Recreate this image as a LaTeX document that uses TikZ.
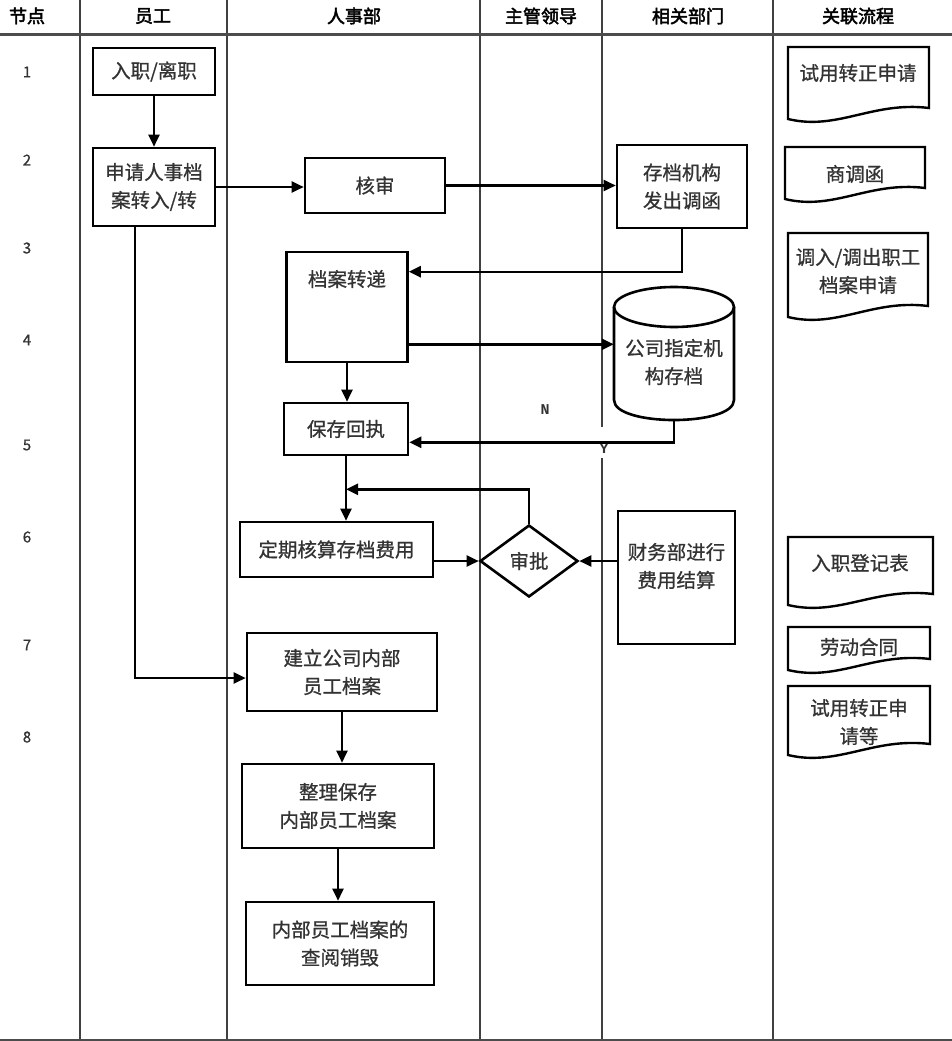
\documentclass[tikz,border=0pt]{standalone}
\usepackage{fontspec}
\newfontfamily\cjk[FakeBold=0.8]{Noto Sans CJK SC}
\newfontfamily\cjkb[FakeBold=2.5]{Noto Sans CJK SC}
\newfontfamily\monob{Liberation Mono}
\usetikzlibrary{arrows.meta,shapes.geometric,calc}
\newcommand\docbox[4]{\draw[docl] (#1,#2) -- (#3,#2) -- (#3,#4-11) .. controls ({#1+0.6*(#3-#1)},#4-18) and ({#1+0.35*(#3-#1)},#4+12) .. (#1,#4) -- cycle;}
\begin{document}
\begin{tikzpicture}[x=1pt,y=-1pt,
  box/.style={draw,line width=2.6pt,align=center,inner sep=0pt,font=\cjk\fontsize{19.5}{28}\selectfont,text=black!80},
  txt/.style={align=center,inner sep=0pt,font=\cjk\fontsize{19.5}{28}\selectfont,text=black!80},
  head/.style={inner sep=0pt,font=\cjkb\fontsize{18}{20}\selectfont},
  num/.style={inner sep=0pt,font=\cjk\fontsize{15}{16}\selectfont,text=black!80},
  arr/.style={line width=2.4pt,-{Triangle[length=12pt,width=11pt]}},
  col/.style={line width=1.6pt,black!75},
  docl/.style={line width=2.4pt},
  yn/.style={inner sep=0pt,font=\monob\bfseries\fontsize{15}{17}\selectfont,text=black!80}]
\useasboundingbox (0,0) rectangle (952,1041);
\fill[white] (0,0) rectangle (952,1041);
% grid
\draw[col] (80,0) -- (80,1041);
\draw[col] (227,0) -- (227,1041);
\draw[col] (480,0) -- (480,1041);
\draw[col] (602,0) -- (602,427);
\draw[col] (602,458) -- (602,1041);
\draw[col] (773,0) -- (773,1041);
\draw[line width=3pt,black!70] (0,35) -- (952,35);
\draw[line width=2pt,black!70] (0,1040) -- (952,1040);
% header
\node[head] (h1) at (27,16) {节点};
\node[head] (h2) at (153,16) {员工};
\node[head] (h3) at (354,16) {人事部};
\node[head] (h4) at (541,16) {主管领导};
\node[head] (h5) at (688,16) {相关部门};
\node[head] (h6) at (858,16) {关联流程};
% node numbers
\node[num] (n1) at (27,72) {1};
\node[num] (n2) at (27,160) {2};
\node[num] (n3) at (27,248) {3};
\node[num] (n4) at (27,340) {4};
\node[num] (n5) at (27,445) {5};
\node[num] (n6) at (27,537) {6};
\node[num] (n7) at (27,645) {7};
\node[num] (n8) at (27,737) {8};
% boxes
\node[box,minimum width=122pt,minimum height=47pt] (in) at (154,71.5) {入职/离职};
\node[box,minimum width=122pt,minimum height=78pt] (apply) at (154,187) {申请人事档\\案转入/转};
\node[box,minimum width=140pt,minimum height=55pt] (hs) at (375,185.5) {核审};
\node[box,minimum width=130pt,minimum height=83pt] (cd) at (682,186.5) {存档机构\\发出调函};
\node[box,minimum width=121pt,minimum height=110pt] (zd) at (347,307) {};
\node[txt] (zdt) at (347,279) {档案转递};
% cylinder
\draw[line width=2.6pt] (614,307) -- (614,400) .. controls (614,426.7) and (734,426.7) .. (734,400) -- (734,307);
\draw[line width=2.6pt] (674,307) ellipse [x radius=60, y radius=20];
\node[inner sep=0pt,minimum width=120pt,minimum height=133pt] (cyl) at (674,353.5) {};
\node[txt] (cylt) at (674,362) {公司指定机\\构存档};
\node[box,minimum width=124pt,minimum height=52pt] (bc) at (346,429) {保存回执};
\node[box,minimum width=193pt,minimum height=55pt] (dq) at (336.5,549.5) {定期核算存档费用};
\node[diamond,draw,line width=2.6pt,minimum width=98pt,minimum height=72pt,inner sep=0pt,aspect=1.36,font=\cjk\fontsize{19.5}{28}\selectfont,text=black!80] (sp) at (529,561) {审批};
\node[box,minimum width=117pt,minimum height=133pt] (cw) at (676.5,577.5) {};
\node[txt] (cwt) at (676.5,566) {财务部进行\\费用结算};
\node[box,minimum width=190pt,minimum height=78pt] (jl) at (342,672) {建立公司内部\\员工档案};
\node[box,minimum width=192pt,minimum height=84pt] (zl) at (338,806) {整理保存\\内部员工档案};
\node[box,minimum width=188pt,minimum height=83pt] (cy) at (340,943.5) {内部员工档案的\\查阅销毁};
% documents
\docbox{788}{47}{929}{119}
\node[txt] (d1) at (858,73) {试用转正申请};
\docbox{785}{147}{925}{199}
\node[txt] (d2) at (855,174) {商调函};
\docbox{788}{233}{928}{317}
\node[txt] (d3) at (858,271) {调入/调出职工\\档案申请};
\docbox{788}{537}{933}{605}
\node[txt] (d4) at (860,563) {入职登记表};
\docbox{788}{627}{930}{670}
\node[txt] (d5) at (859,647) {劳动合同};
\docbox{788}{686}{930}{755}
\node[txt] (d6) at (859,722) {试用转正申\\请等};
% labels
\node[yn] (lN) at (545,410) {N};
\node[yn] (lY) at (604,449) {Y};
% connectors
\coordinate (c1) at ($(zd.north east)+(0,21)$);
\coordinate (c2) at ($(zd.south east)+(0,-19)$);
\coordinate (c3) at ($(bc.south east)+(0,-14)$);
\coordinate (j) at ($(bc.south)+(0,33)$);
\coordinate (c4) at ($(apply.south)+(-19,0)$);
\coordinate (c5) at ($(jl.west)+(0,6)$);
\draw[arr] (in.south) -- (apply.north);
\draw[arr] (apply.east) -- (apply.east -| hs.west);
\draw[arr] (hs.east) -- (hs.east -| cd.west);
\draw[arr] (cd.south) |- (c1);
\draw[arr] (c2) -- (c2 -| cyl.west);
\draw[arr] (zd.south) -- (zd.south |- bc.north);
\draw[arr] (cyl.south) |- (c3);
\draw[arr] (bc.south) -- (bc.south |- dq.north);
\draw[arr] (sp.north) |- (j);
\draw[arr] (dq.east |- sp.west) -- (sp.west);
\draw[arr] (cw.west |- sp.east) -- (sp.east);
\draw[arr] (c4) |- (c5);
\draw[arr] (jl.south) -- (jl.south |- zl.north);
\draw[arr] (zl.south) -- (zl.south |- cy.north);
\end{tikzpicture}
\end{document}
